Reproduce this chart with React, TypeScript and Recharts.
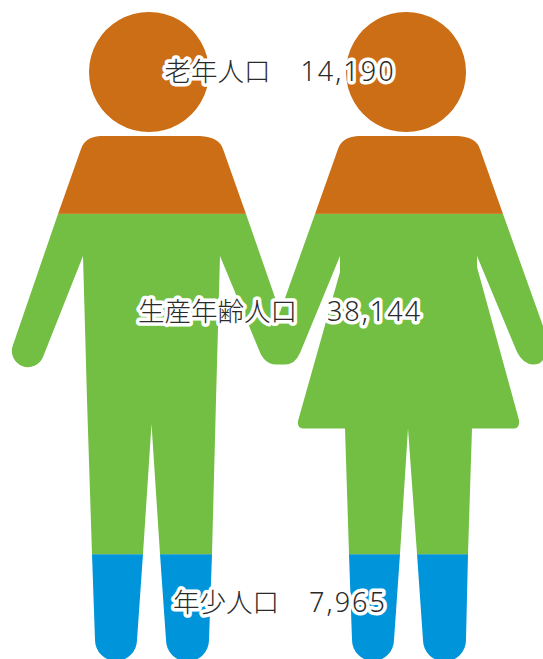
import React from "react";
import { BarChart, Bar, XAxis, YAxis, ReferenceDot } from "recharts";

const groupLabels = ["年少人口", "生産年齢人口", "老年人口"];
const populationText = ["7,965", "38,144", "14,190"];
// share of the silhouette's height taken by each band
const bandShares = [16.2, 52.6, 31.2];
const bandKeys = ["young", "working", "old"];
const bandColors = ["#0095DA", "#72BF44", "#CC6E16"];
// where each caption sits on the same 0-100 axis
const labelLevels = [7.26, 52.24, 89.34];

const row: Record<string, number | string> = { name: "人口" };
bandKeys.forEach((k, i) => { row[k] = bandShares[i]; });
const chartData = [row];

const W = 543;
const H = 659;

const MAN =
  "M149 12a60 60 0 1 0 0.01 0Z " +
  "M100 136 L200 136 Q219 137 223 149 L246 214 L279 309 L283 364.5 L276 364.5 Q264 364 259 350 L220 256 L216 400 L212 554 L209 640 A21.5 21.5 0 0 1 166 640 L160 554 L151.5 424 L143 554 L137 640 A21 21 0 0 1 95 640 L92 554 L87 400 L83 256 L43 357 A16 16 0 0 1 13 345 L58 214 L81 149 Q85 137 100 136 Z";
const WOMAN =
  "M406 12a60 60 0 1 0 0.01 0Z " +
  "M358 136 L458 136 Q476 137 480 149 L503 214 L543 326 L543 360 Q540 364.5 533 364.5 Q523 364 517 352 L477 256 L477 267 L519 420 Q520 428 514 428.5 L472 428.5 L468 554 L466 640 A21.5 21.5 0 0 1 423 640 L417 554 L408 428.5 L400 554 L394 640 A21 21 0 0 1 352 640 L349 554 L345 428.5 L303 428.5 Q297 428 298 421 L340 272 L340 256 L300 353 Q295 364.5 285 364.5 L279 364.5 L279 315 L315 214 L338 149 Q342 137 358 136 Z";

const Clipped = (props: any) => (
  <rect x={props.x} y={props.y} width={props.width} height={props.height} fill={props.fill} clipPath="url(#people)" />
);

const captionShape = (i: number) => (props: any) => (
  <text
    x={props.cx + 8.5}
    y={props.cy}
    textAnchor="middle"
    fontFamily="'Noto Sans CJK JP'"
    fontWeight={300}
    fontSize={26.5}
    fill="#2a2a2a"
    stroke="#fff"
    strokeWidth={7}
    strokeLinejoin="round"
    style={{ paintOrder: "stroke" }}
  >
    <tspan>{groupLabels[i]}</tspan>
    <tspan dx={30} fontFamily="'Noto Sans'" fontSize={27} letterSpacing={2}>{populationText[i]}</tspan>
  </text>
);

export default function App() {
  return (
    <div style={{ position: "absolute", left: 0, top: 0, width: W, height: H }}>
      <BarChart width={W} height={H} data={chartData} margin={{ top: 12, right: 0, bottom: 0, left: 0 }} barCategoryGap={0}>
        <defs>
          <clipPath id="people">
            <path d={MAN} />
            <path d={WOMAN} />
          </clipPath>
        </defs>
        <XAxis dataKey="name" hide />
        <YAxis hide domain={[0, 100]} />
        {bandKeys.map((k, i) => (
          <Bar key={k} dataKey={k} stackId="p" fill={bandColors[i]} shape={Clipped} isAnimationActive={false} />
        ))}
        {labelLevels.map((lv, i) => (
          <ReferenceDot key={i} x="人口" y={lv} shape={captionShape(i)} ifOverflow="visible" />
        ))}
      </BarChart>
    </div>
  );
}
